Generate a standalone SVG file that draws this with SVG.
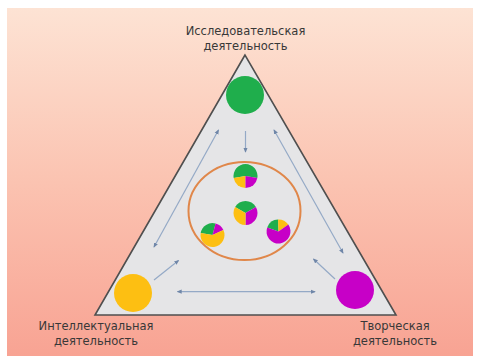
<svg xmlns="http://www.w3.org/2000/svg" width="478" height="357" viewBox="0 0 478 357">
  <defs>
    <linearGradient id="bg" x1="0" y1="0" x2="0" y2="1">
      <stop offset="0" stop-color="#fde3d4"/>
      <stop offset="0.5" stop-color="#fbc3b1"/>
      <stop offset="1" stop-color="#f8a393"/>
    </linearGradient>
    <marker id="ah" viewBox="0 0 6 6" refX="5" refY="3" markerWidth="5" markerHeight="5" orient="auto-start-reverse" markerUnits="userSpaceOnUse">
      <path d="M0,0.5 L6,3 L0,5.5 Z" fill="#6f86a8"/>
    </marker>
    <style>
      .lbl { font-family: "DejaVu Sans", "Liberation Sans", sans-serif; font-size: 11.5px; fill: #383838; text-anchor: middle; }
      .conn { stroke: #94a9c6; stroke-width: 1.2; fill: none; }
      .g { fill: #1fae4c; }
      .y { fill: #fdbf12; }
      .m { fill: #c700c7; }
    </style>
  </defs>

  <rect x="0" y="0" width="478" height="357" fill="#ffffff"/>
  <rect x="7" y="8" width="466" height="348" fill="url(#bg)"/>

  <g id="triangle">
    <polygon points="245,55 95,315 396,315" fill="#e5e5e7" stroke="#4f4f4f" stroke-width="1.6" stroke-linejoin="miter"/>
  </g>

  <g id="connectors">
    <line class="conn" x1="245.5" y1="131" x2="245.5" y2="152" marker-end="url(#ah)"/>
    <line class="conn" x1="218.5" y1="130" x2="154" y2="247" marker-start="url(#ah)" marker-end="url(#ah)"/>
    <line class="conn" x1="274" y1="130" x2="343" y2="253" marker-start="url(#ah)" marker-end="url(#ah)"/>
    <line class="conn" x1="154" y1="280" x2="178.5" y2="260.5" marker-end="url(#ah)"/>
    <line class="conn" x1="335" y1="279" x2="313.5" y2="259" marker-end="url(#ah)"/>
    <line class="conn" x1="177.5" y1="291.7" x2="315" y2="291.7" marker-start="url(#ah)" marker-end="url(#ah)"/>
  </g>

  <g id="research">
    <circle cx="245" cy="95" r="19" class="g"/>
    <text class="lbl" x="245.5" y="35">Исследовательская</text>
    <text class="lbl" x="245.5" y="50">деятельность</text>
  </g>

  <g id="intellectual">
    <circle cx="133" cy="293" r="19" class="y"/>
    <text class="lbl" x="96" y="330">Интеллектуальная</text>
    <text class="lbl" x="96" y="345">деятельность</text>
  </g>

  <g id="creative">
    <circle cx="355" cy="290" r="19" class="m"/>
    <text class="lbl" x="395" y="330">Творческая</text>
    <text class="lbl" x="395" y="345">деятельность</text>
  </g>

  <g id="integration">
    <ellipse cx="244.5" cy="211" rx="56" ry="49" fill="none" stroke="#e0874a" stroke-width="2"/>
  </g>

  <g id="pie-top">
    <path class="g" d="M245.5,176 L233.68,178.08 A12,12 0 1 1 257.32,178.08 Z"/>
    <path class="y" d="M245.5,176 L245.5,188 A12,12 0 0 1 233.68,178.08 Z"/>
    <path class="m" d="M245.5,176 L257.32,178.08 A12,12 0 0 1 245.5,188 Z"/>
  </g>

  <g id="pie-center">
    <path class="g" d="M245.5,213 L235.11,207 A12,12 0 0 1 255.89,207 Z"/>
    <path class="m" d="M245.5,213 L255.89,207 A12,12 0 0 1 245.5,225 Z"/>
    <path class="y" d="M245.5,213 L245.5,225 A12,12 0 0 1 235.11,207 Z"/>
  </g>

  <g id="pie-left">
    <path class="g" d="M212.5,235 L200.68,232.92 A12,12 0 0 1 215.61,223.41 Z"/>
    <path class="m" d="M212.5,235 L215.61,223.41 A12,12 0 0 1 223.38,229.93 Z"/>
    <path class="y" d="M212.5,235 L223.38,229.93 A12,12 0 1 1 200.68,232.92 Z"/>
  </g>

  <g id="pie-right">
    <path class="g" d="M278.5,231.5 L267.22,227.4 A12,12 0 0 1 278.08,219.51 Z"/>
    <path class="y" d="M278.5,231.5 L278.08,219.51 A12,12 0 0 1 288.33,224.62 Z"/>
    <path class="m" d="M278.5,231.5 L288.33,224.62 A12,12 0 1 1 267.22,227.4 Z"/>
  </g>
</svg>
